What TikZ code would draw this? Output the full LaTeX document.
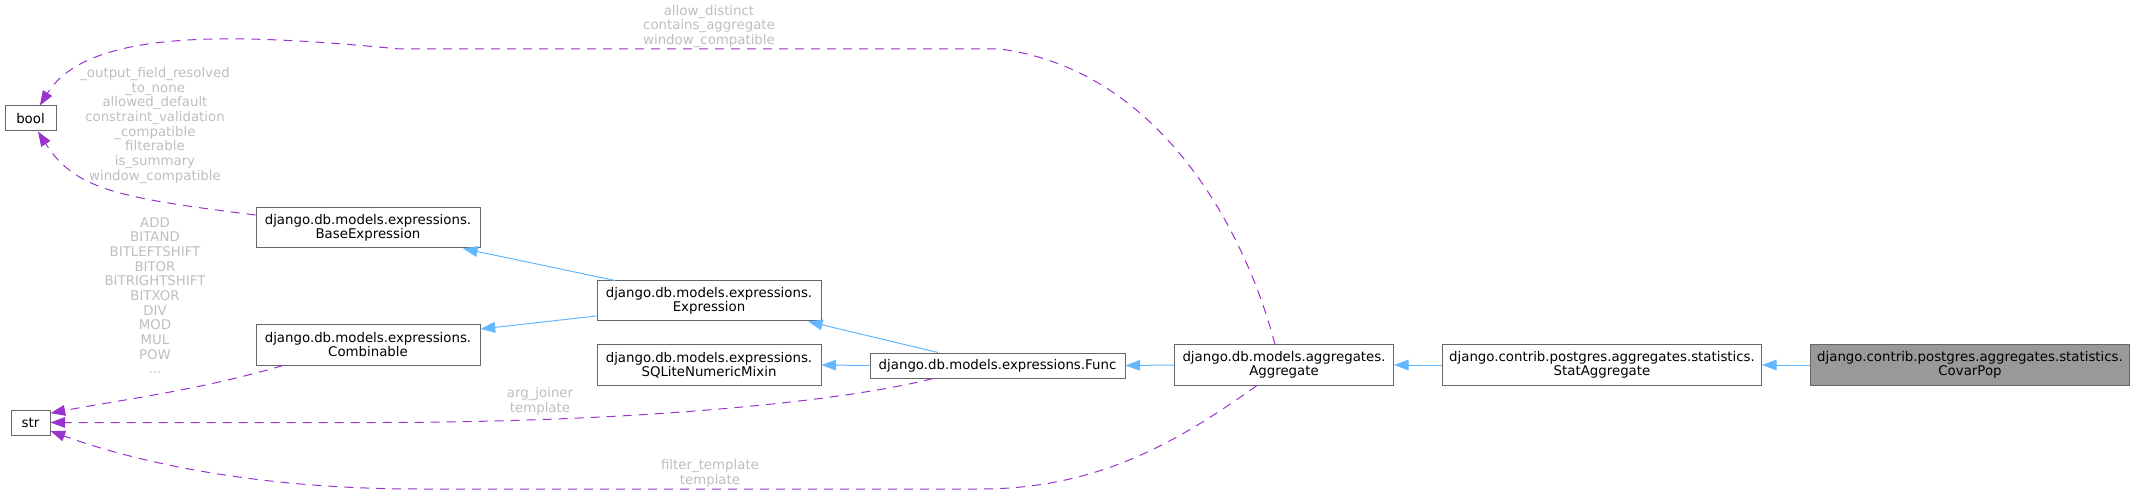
\documentclass[tikz,border=0pt]{standalone}
\usepackage{fontspec}
\setmainfont{DejaVu Sans}
\usetikzlibrary{arrows.meta}

\definecolor{edgeblue}{HTML}{63B8FF}
\definecolor{edgepurple}{HTML}{9A32CD}
\definecolor{boxgray}{HTML}{666666}
\definecolor{curfill}{HTML}{999999}
\definecolor{lblgray}{HTML}{BEBEBE}

\begin{document}
\begin{tikzpicture}[x=0.75pt,y=-0.75pt,
  cls/.style={draw=boxgray,fill=white,line width=0.75pt,inner sep=0pt,align=center,
    minimum height=30pt,font=\fontsize{10pt}{10.5pt}\selectfont},
  cur/.style={cls,fill=curfill},
  inh/.style={draw=edgeblue,line width=0.75pt,-{Triangle[length=11pt,width=8pt]}},
  member/.style={draw=edgepurple,line width=0.75pt,dash pattern=on 6.75pt off 5.25pt,
    -{Triangle[length=11pt,width=8pt]}},
  lbl/.style={text=lblgray,align=center,inner sep=0pt,font=\fontsize{10pt}{11pt}\selectfont}
]
  \useasboundingbox (0,0) rectangle (2135,495);

  % classes
  \node[cls,minimum width=38.25pt,minimum height=18.75pt] (bool) at (30.5,118.5) {bool};
  \node[cls,minimum width=29.25pt,minimum height=18.75pt] (str) at (30.5,422.5) {str};
  \node[cls,minimum width=168pt] (base) at (368,228) {django.db.models.expressions.\\BaseExpression};
  \node[cls,minimum width=168pt] (comb) at (368,345) {django.db.models.expressions.\\Combinable};
  \node[cls,minimum width=168pt] (expr) at (709,301) {django.db.models.expressions.\\Expression};
  \node[cls,minimum width=168pt] (sqlite) at (709,365) {django.db.models.expressions.\\SQLiteNumericMixin};
  \node[cls,minimum width=191.25pt,minimum height=18.75pt] (func) at (997.5,365.5) {django.db.models.expressions.Func};
  \node[cls,minimum width=164.25pt] (agg) at (1284,365) {django.db.models.aggregates.\\Aggregate};
  \node[cls,minimum width=239.25pt] (stat) at (1602,365) {django.contrib.postgres.aggregates.statistics.\\StatAggregate};
  \node[cur,minimum width=239.25pt] (covar) at (1970,365) {django.contrib.postgres.aggregates.statistics.\\CovarPop};

  % inheritance
  \draw[inh] ([xshift=-70.5pt]expr.north) -- ([xshift=71.25pt]base.south);
  \draw[inh] ([yshift=-11.25pt]expr.west) -- ([yshift=12pt]comb.east);
  \draw[inh] ([xshift=-44.6pt]func.north) -- ([xshift=74.25pt]expr.south);
  \draw[inh] (func.west) -- (sqlite.east);
  \draw[inh] (agg.west) -- (func.east);
  \draw[inh] (stat.west) -- (agg.east);
  \draw[inh] (covar.west) -- (stat.east);

  % members
  \draw[member] ([xshift=-6.75pt]agg.north) .. controls (1245,230) and (1160,70) .. (1000,49)
    -- (400,49) .. controls (250,35) and (90,25) .. ([xshift=7pt]bool.north);
  \draw[member] ([yshift=9.75pt]base.west) .. controls (120,198) and (75,190) .. ([xshift=5.6pt]bool.south);
  \draw[member] ([xshift=-63.75pt]comb.south) .. controls (200,390) and (120,400) .. ([yshift=7pt]str.east);
  \draw[member] ([xshift=-48.4pt]func.south) .. controls (850,400) and (650,422) .. (383,422.5) -- (str.east);
  \draw[member] ([xshift=-20.25pt]agg.south) .. controls (1180,440) and (1100,489) .. (980,489)
    -- (420,489) .. controls (250,489) and (130,460) .. ([yshift=-6.4pt]str.east);

  % labels
  \node[lbl] (lbltop) at (709,26.5) {allow\_distinct\\contains\_aggregate\\window\_compatible};
  \node[lbl] (lblbool) at (155,125.4) {\_output\_field\_resolved\\\_to\_none\\allowed\_default\\constraint\_validation\\\_compatible\\filterable\\is\_summary\\window\_compatible};
  \node[lbl] (lblops) at (155,295.6) {ADD\\BITAND\\BITLEFTSHIFT\\BITOR\\BITRIGHTSHIFT\\BITXOR\\DIV\\MOD\\MUL\\POW\\...};
  \node[lbl] (lbljoin) at (540,401) {arg\_joiner\\template};
  \node[lbl] (lblfilter) at (710,473) {filter\_template\\template};
\end{tikzpicture}
\end{document}
